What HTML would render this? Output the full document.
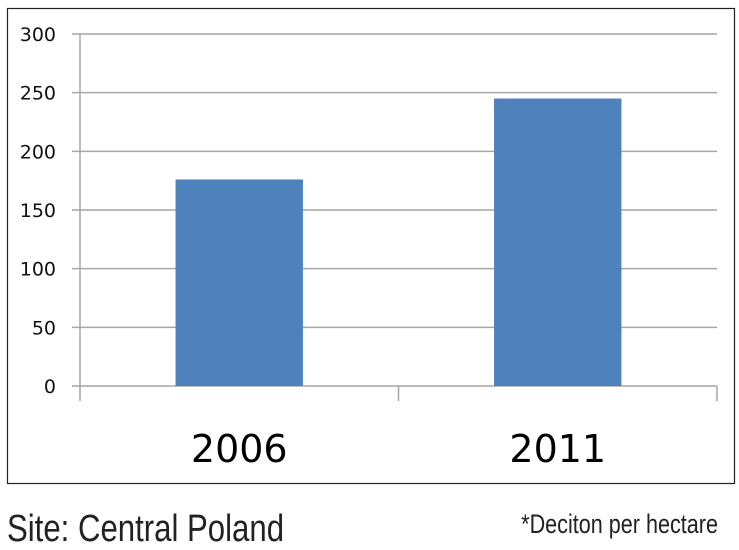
<!DOCTYPE html>
<html><head><meta charset="utf-8"><style>
html,body{margin:0;padding:0;background:#fff;width:739px;height:550px;overflow:hidden}
svg{display:block}
</style></head><body>
<svg width="739" height="550" xmlns="http://www.w3.org/2000/svg">
<rect x="7.5" y="8.5" width="727" height="475" fill="#fff" stroke="#222" stroke-width="1.2"/>
<g id="grid"></g><g id="bars"></g><g id="axes"></g>
<text x="7" y="541" font-family="Liberation Sans, sans-serif" font-size="38" fill="#222" transform="translate(7 0) scale(0.82 1) translate(-7 0)">Site: Central Poland</text>
<text x="718" y="533" text-anchor="end" font-family="Liberation Sans, sans-serif" font-size="27" fill="#222" transform="translate(718 0) scale(0.8 1) translate(-718 0)">*Deciton per hectare</text>
</svg>
<script>
const categories = ["2006", "2011"];
const values = [176, 245];
const yTicks = [0, 50, 100, 150, 200, 250, 300];
const NS = "http://www.w3.org/2000/svg";
const x0 = 80, x1 = 717, yTop = 34, yBot = 386, yMax = 300;
function yScale(v){ return yBot - (v / yMax) * (yBot - yTop); }
const band = (x1 - x0) / categories.length;
function xCenter(i){ return x0 + band * (i + 0.5); }
function mk(tag, attrs, parent){ const e = document.createElementNS(NS, tag); for (const k in attrs) e.setAttribute(k, attrs[k]); parent.appendChild(e); return e; }
const grid = document.getElementById('grid'), bars = document.getElementById('bars'), axes = document.getElementById('axes');
yTicks.forEach(t => {
  const y = yScale(t);
  const l = mk('line', {x1: 72, x2: x1, y1: y, y2: y, stroke: '#a6a6a6', 'stroke-width': 1.5}, grid);
  
  
  const tx = mk('text', {x: 56, y: y + 7, 'text-anchor': 'end', 'font-family': 'DejaVu Sans, sans-serif', 'font-size': 19, fill: '#111'}, axes);
  tx.textContent = t;
  
  
});
const yl = mk('line', {x1: x0, x2: x0, y1: yTop, y2: yBot, stroke: '#a6a6a6', 'stroke-width': 1.5}, axes);


const bw = band * 0.4;
categories.forEach((c, i) => {
  const xc = xCenter(i);
  const r = mk('rect', {x: xc - bw/2, y: yScale(values[i]), width: bw, height: yBot - yScale(values[i]), fill: '#4f81bd'}, bars);
  
  
  const tx = mk('text', {x: xc, y: 462, 'text-anchor': 'middle', 'font-family': 'DejaVu Sans, sans-serif', 'font-size': 38, fill: '#000'}, axes);
  tx.textContent = c;
  
  
});
for (let i = 0; i <= categories.length; i++) {
  const x = x0 + band * i;
  const t = mk('line', {x1: x, x2: x, y1: yBot, y2: 401, stroke: '#a6a6a6', 'stroke-width': 1.5}, axes);
  
  
}
</script>
</body></html>
